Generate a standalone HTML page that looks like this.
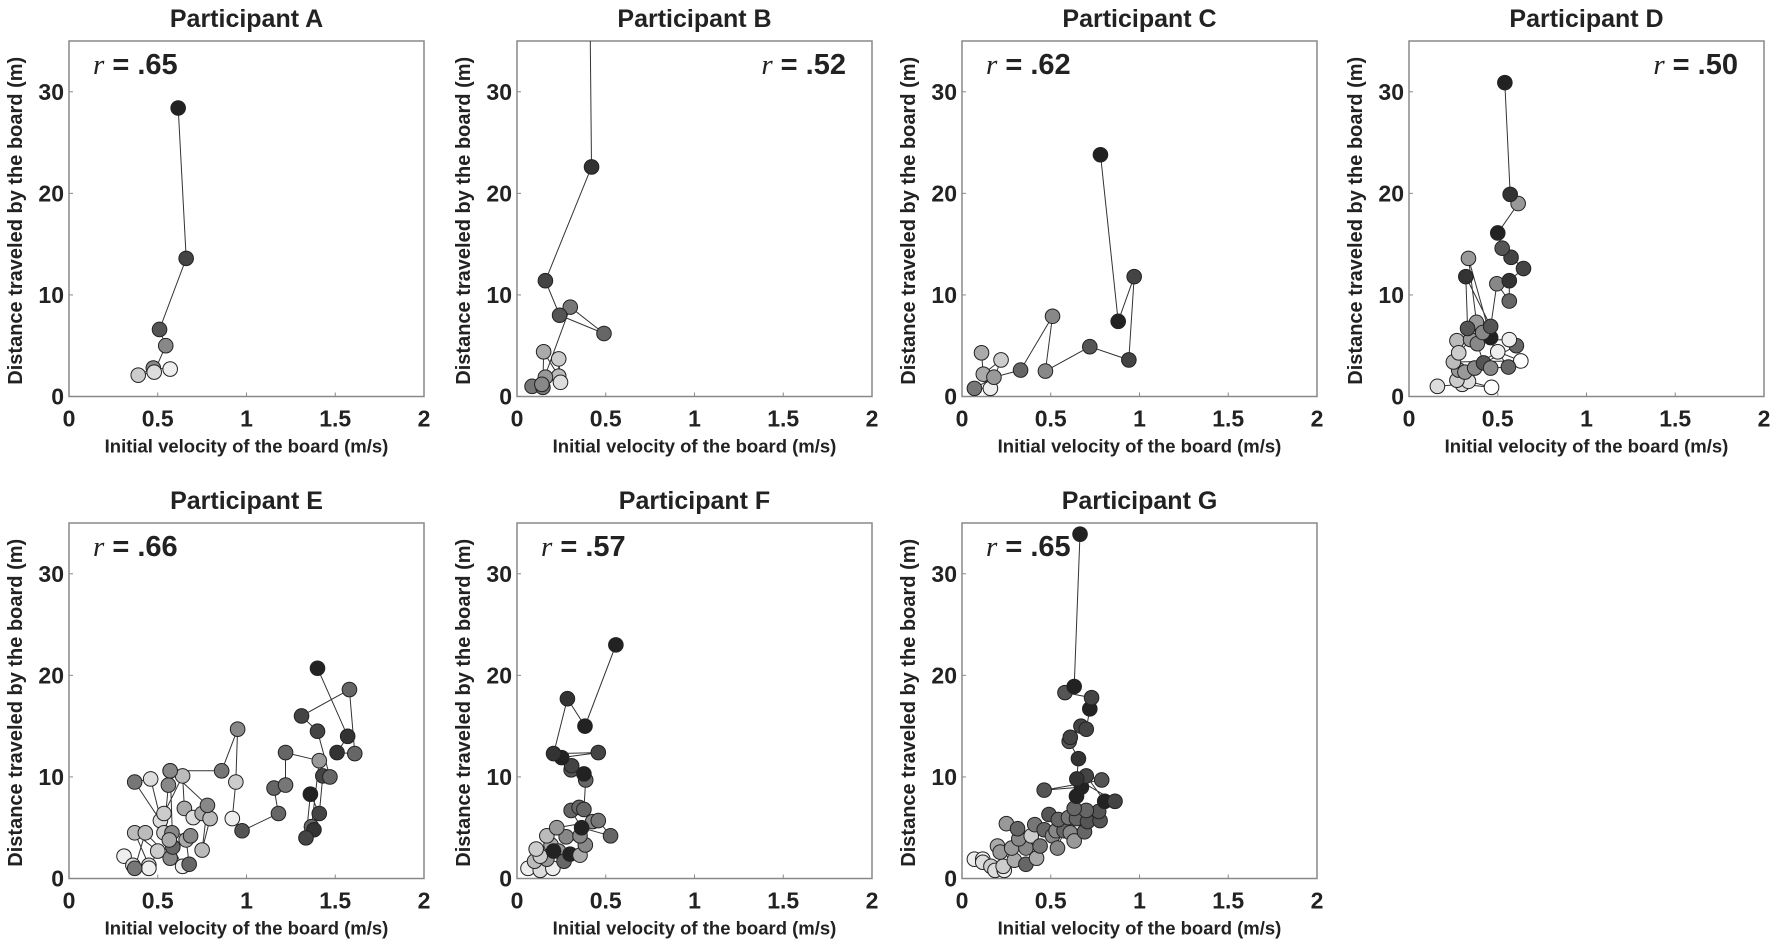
<!DOCTYPE html>
<html><head><meta charset="utf-8"><style>
html,body{margin:0;padding:0;background:#fff;}
svg{display:block;font-family:"Liberation Sans",Arial,sans-serif;}
</style></head><body>
<svg id="fig" width="1772" height="944" viewBox="0 0 1772 944" xmlns="http://www.w3.org/2000/svg"></svg>
<script>
const xTicks=[0,0.5,1,1.5,2];
const xTickLabels=["0","0.5","1","1.5","2"];
const yTicks=[0,10,20,30];
const yTickLabels=["0","10","20","30"];
const panelNames=["A","B","C","D","E","F","G"];
const rValues=[".65",".52",".62",".50",".66",".57",".65"];
const rRight=[false,true,false,true,false,false,false];

const velA=[.57,.475,.39,.48,.545,.51,.66,.615];
const distA=[2.7,2.8,2.1,2.4,5.0,6.6,13.6,28.4];
const shadeA=["#eee","#888","#ccc","#ddd","#888","#555","#444","#222"];

const velB=[.085,.146,.15,.235,.235,.245,.16,.14,.30,.49,.24,.16,.42,.41];
const distB=[1.0,.9,4.4,2.0,3.7,1.4,1.9,1.2,8.8,6.2,8.0,11.4,22.6,40];
const shadeB=["#777","#777","#aaa","#bbb","#ccc","#ddd","#999","#888","#777","#666","#555","#444","#333","#333"];

const velC=[.11,.12,.22,.16,.07,.18,.33,.51,.47,.72,.94,.97,.88,.78];
const distC=[4.3,2.2,3.6,.8,.8,1.9,2.6,7.9,2.5,4.9,3.6,11.8,7.4,23.8];
const shadeC=["#aaa","#aaa","#ccc","#eee","#777","#999","#666","#888","#888","#555","#444","#444","#222","#222"];

const velD=[.16,.30,.465,.335,.27,.28,.25,.63,.50,.315,.37,.605,.565,.27,.28,.347,.385,.42,.46,.56,.38,.335,.46,.415,.33,.32,.46,.495,.565,.565,.645,.575,.525,.50,.615,.57,.54];
const distD=[1.0,1.2,.9,1.5,1.6,2.6,3.4,3.5,4.4,2.4,2.8,5.0,5.6,5.5,4.3,5.6,5.2,3.3,2.8,2.9,7.3,13.6,5.8,6.3,6.7,11.8,6.9,11.1,9.4,11.4,12.6,13.7,14.6,16.1,19.0,19.9,30.9];
const shadeD=["#ddd","#ddd","#fff","#ddd","#ccc","#999","#bbb","#fff","#eee","#999","#888","#666","#eee","#bbb","#ccc","#999","#888","#555","#888","#666","#999","#999","#222","#888","#555","#333","#555","#888","#666","#333","#444","#444","#555","#222","#999","#333","#222"];

const velE=[.31,.36,.45,.37,.50,.45,.37,.43,.57,.46,.37,.515,.535,.56,.57,.585,.64,.677,.66,.685,.58,.565,.535,.64,.65,.70,.75,.795,.75,.78,.57,.86,.95,.94,.92,.975,1.18,1.155,1.22,1.22,1.41,1.366,1.38,1.335,1.36,1.41,1.43,1.47,1.40,1.31,1.58,1.61,1.51,1.57,1.40];
const distE=[2.2,1.3,1.3,4.5,2.7,1.0,1.0,4.5,2.0,9.8,9.5,5.7,4.5,9.2,10.6,3.1,1.2,1.4,3.8,4.2,4.5,3.8,6.4,10.1,6.9,6.0,6.4,5.9,2.8,7.2,10.6,10.6,14.7,9.5,5.9,4.7,6.4,8.9,9.2,12.4,11.6,5.1,4.8,4.0,8.3,6.4,10.1,10.0,14.5,16.0,18.6,12.3,12.4,14.0,20.7];
const shadeE=["#eee","#ddd","#ddd","#bbb","#ccc","#eee","#777","#bbb","#888","#ddd","#777","#ddd","#ccc","#888","#888","#666","#eee","#666","#aaa","#888","#888","#aaa","#ccc","#bbb","#aaa","#ddd","#aaa","#bbb","#bbb","#888","#888","#777","#888","#ccc","#eee","#555","#666","#666","#777","#666","#999","#666","#333","#444","#222","#444","#444","#666","#444","#444","#666","#666","#333","#333","#222"];

const velF=[.062,.131,.202,.099,.168,.131,.108,.192,.168,.234,.206,.265,.299,.355,.385,.277,.355,.224,.426,.458,.527,.364,.305,.35,.377,.387,.305,.377,.308,.252,.458,.206,.284,.383,.557];
const distF=[1.0,.8,1.0,1.7,1.9,2.2,2.9,3.3,4.2,2.7,2.7,1.7,2.4,2.3,3.3,4.1,4.2,5.0,5.6,5.7,4.2,5.0,6.7,7.0,6.8,9.7,10.7,10.3,11.1,11.9,12.4,12.3,17.7,15.0,23.0];
const shadeF=["#eee","#ddd","#eee","#bbb","#999","#ccc","#ccc","#aaa","#bbb","#999","#222","#666","#222","#aaa","#888","#888","#888","#999","#888","#777","#666","#222","#666","#666","#666","#666","#555","#222","#444","#222","#444","#333","#333","#222","#222"];

const velG=[.07,.117,.117,.163,.186,.238,.232,.20,.215,.295,.28,.36,.42,.36,.25,.32,.39,.313,.44,.41,.463,.51,.53,.538,.575,.61,.632,.49,.543,.60,.645,.69,.707,.778,.77,.70,.632,.645,.673,.463,.787,.70,.804,.862,.647,.656,.604,.61,.67,.70,.72,.73,.58,.632,.665];
const distG=[1.9,1.9,1.6,1.2,.8,.8,1.2,3.2,2.6,1.8,3.0,1.4,2.0,3.0,5.4,3.9,4.2,4.9,3.2,5.3,4.8,4.2,4.7,3.0,4.7,4.5,3.7,6.3,5.8,6.0,5.9,4.6,5.6,5.7,6.6,6.7,6.9,8.1,9.0,8.7,9.7,10.1,7.6,7.6,9.8,11.8,13.5,13.9,15.0,14.7,16.7,17.8,18.3,18.9,33.9];
const shadeG=["#eee","#eee","#ddd","#ccc","#ddd","#eee","#ccc","#aaa","#999","#aaa","#999","#666","#aaa","#888","#999","#888","#ccc","#666","#777","#777","#666","#888","#888","#888","#666","#888","#999","#555","#666","#777","#666","#666","#555","#555","#555","#666","#666","#222","#222","#555","#555","#444","#222","#444","#333","#333","#555","#444","#444","#444","#222","#444","#555","#222","#222"];

const panelVel=[velA,velB,velC,velD,velE,velF,velG];
const panelDist=[distA,distB,distC,distD,distE,distF,distG];
const panelShade=[shadeA,shadeB,shadeC,shadeD,shadeE,shadeF,shadeG];

const NS="http://www.w3.org/2000/svg";
const svg=document.getElementById('fig');
const lefts=[69,517,962,1409,69,517,962];
const tops=[41,41,41,41,523,523,523];
const W=355,H=355.5,XMAX=2,YMAX=35;
function mk(tag,attrs,parent){const e=document.createElementNS(NS,tag);for(const k in attrs)e.setAttribute(k,attrs[k]);(parent||svg).appendChild(e);return e;}

panelNames.forEach((p,i)=>{
  const L=lefts[i],T=tops[i],B=T+H,R=L+W;
  const sx=v=>L+v/XMAX*W;
  const sy=d=>B-d/YMAX*H;
  const g=mk('g',{});
  
  
  const cp=mk('clipPath',{id:'clip'+i},g);
  mk('rect',{x:L,y:T,width:W,height:H},cp);
  const title=mk('text',{x:L+W/2,y:T-14,'text-anchor':'middle','font-size':25,'font-weight':'bold',fill:'#222'},g);
  title.textContent='Participant '+p;
  
  
  const box=mk('rect',{x:L,y:T,width:W,height:H,fill:'none',stroke:'#888','stroke-width':1.5},g);
  
  
  xTicks.forEach((t,k)=>{
    mk('line',{x1:sx(t),x2:sx(t),y1:B,y2:B-4,stroke:'#888','stroke-width':1},g);
    const tl=mk('text',{x:sx(t),y:B+30,'text-anchor':'middle','font-size':23,'font-weight':'bold',fill:'#222'},g);
    tl.textContent=xTickLabels[k];
    
    
  });
  yTicks.forEach((t,k)=>{
    mk('line',{x1:L,x2:L+4,y1:sy(t),y2:sy(t),stroke:'#888','stroke-width':1},g);
    const tl=mk('text',{x:L-5,y:sy(t)+8,'text-anchor':'end','font-size':23,'font-weight':'bold',fill:'#222'},g);
    tl.textContent=yTickLabels[k];
    
    
  });
  const xt=mk('text',{x:L+W/2,y:B+56,'text-anchor':'middle','font-size':18.5,'font-weight':'bold',fill:'#222'},g);
  xt.textContent='Initial velocity of the board (m/s)';
  
  
  const yt=mk('text',{x:0,y:0,'text-anchor':'middle','font-size':20,'font-weight':'bold',fill:'#222',transform:`translate(${L-47},${T+H/2+2}) rotate(-90)`},g);
  yt.textContent='Distance traveled by the board (m)';
  
  
  const rt=mk('text',{x:rRight[i]?R-26:L+24,y:T+33,'text-anchor':rRight[i]?'end':'start','font-size':29,'font-weight':'bold',fill:'#222'},g);
  const ti=mk('tspan',{'font-family':'"Liberation Serif",serif','font-style':'italic','font-weight':'normal'},rt);
  ti.textContent='r';
  const tv=mk('tspan',{},rt);
  tv.textContent=' = '+rValues[i];
  
  
  const V=panelVel[i],D=panelDist[i],S=panelShade[i];
  const inner=mk('g',{'clip-path':`url(#clip${i})`},g);
  const pts=V.map((v,k)=>sx(v).toFixed(1)+','+sy(D[k]).toFixed(1)).join(' ');
  const pl=mk('polyline',{points:pts,fill:'none',stroke:'#333','stroke-width':1},inner);
  
  
  V.forEach((v,k)=>{
    const c=mk('circle',{cx:sx(v),cy:sy(D[k]),r:7.3,fill:S[k],stroke:'#222','stroke-width':1},inner);
    
    
  });
});
</script>
</body></html>
